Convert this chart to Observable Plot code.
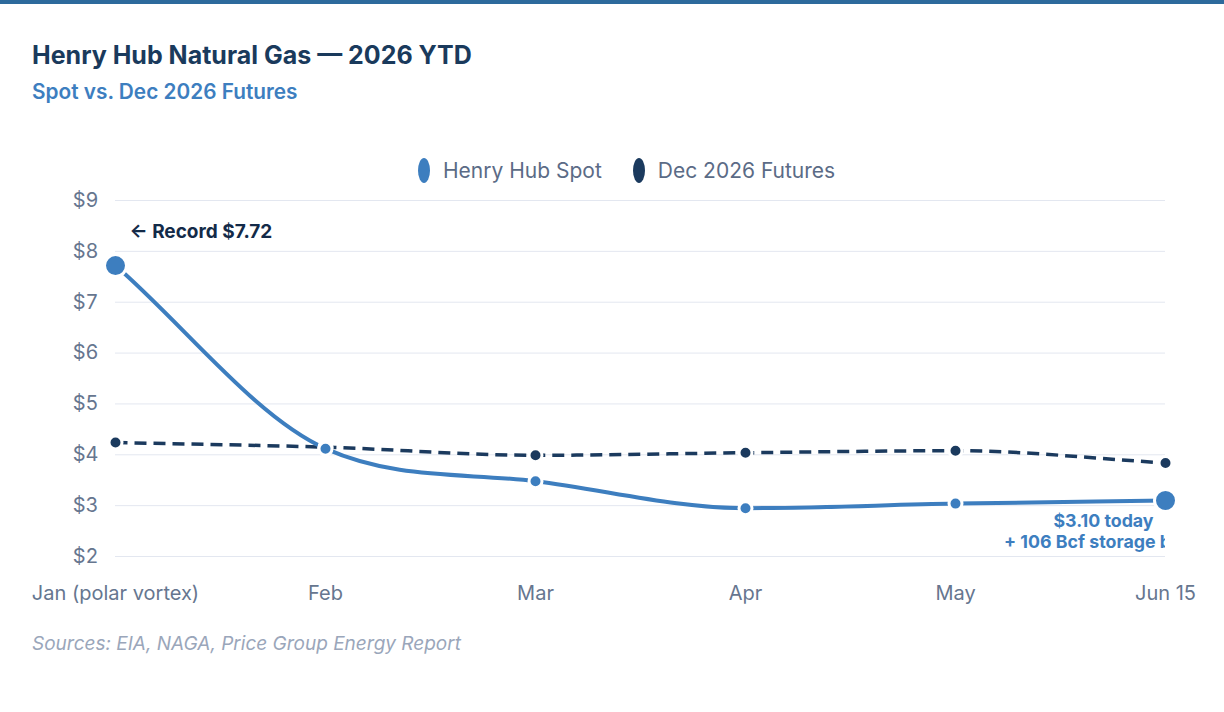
<!DOCTYPE html>
<html>
<head>
<meta charset="utf-8">
<script src="https://cdn.jsdelivr.net/npm/d3@7"></script>
<script src="https://cdn.jsdelivr.net/npm/@observablehq/plot@0.6"></script>
<style>
  html, body { margin: 0; padding: 0; background: #fff; }
  body { width: 1224px; height: 712px; position: relative; overflow: hidden; font-family: Inter, "Noto Sans", sans-serif; }
  .topbar { position: absolute; left: 0; top: 0; width: 1224px; height: 4px; background: #2d6a9c; }
  .title { position: absolute; left: 32px; top: 40px; font-size: 25px; line-height: 30px; font-weight: 700; color: #1a3a5c; }
  .subtitle { position: absolute; left: 32px; top: 79px; font-size: 20.8px; line-height: 25px; font-weight: 600; color: #3d7ebf; }
  .legend { position: absolute; top: 157px; left: 418px; height: 26px; display: flex; align-items: center; gap: 31px; font-size: 21px; color: #5b6b86; }
  .legend .item { display: flex; align-items: center; gap: 13px; }
  .legend .sw { width: 12px; height: 25px; border-radius: 50%; display: inline-block; }
  #chart { position: absolute; left: 0; top: 185px; }
  .caption { position: absolute; left: 32px; top: 632px; font-size: 19px; line-height: 23px; font-style: italic; color: #9aa6ba; }
</style>
</head>
<body>
<div class="topbar"></div>
<div class="title">Henry Hub Natural Gas — 2026 YTD</div>
<div class="subtitle">Spot vs. Dec 2026 Futures</div>
<div class="legend" id="legend"></div>
<div id="chart"></div>
<div class="caption">Sources: EIA, NAGA, Price Group Energy Report</div>
<script>
// Month labels along the x axis
const months = ["Jan (polar vortex)", "Feb", "Mar", "Apr", "May", "Jun 15"];
// Henry Hub spot price, $/MMBtu
const spot = [7.72, 4.12, 3.48, 2.95, 3.04, 3.10];
// Dec 2026 futures contract, $/MMBtu
const futures = [4.24, 4.15, 3.99, 4.04, 4.08, 3.84];
// Y axis ticks
const yTicks = [2, 3, 4, 5, 6, 7, 8, 9];

const seriesNames = ["Henry Hub Spot", "Dec 2026 Futures"];
const seriesColors = ["#3d7ebf", "#1b3a5e"];

const spotRows = months.map((m, i) => ({month: m, value: spot[i], big: i === 0 || i === months.length - 1}));
const futRows = months.map((m, i) => ({month: m, value: futures[i]}));

// Monotone cubic (Fritsch–Carlson): tangents are the mean of neighbouring
// slopes, zeroed at extrema and scaled down where they would overshoot.
function monotoneCubic(context) {
  let pts = [];
  return {
    areaStart() {}, areaEnd() {},
    lineStart() { pts = []; },
    point(x, y) { pts.push([+x, +y]); },
    lineEnd() {
      const n = pts.length;
      if (!n) return;
      const delta = [], m = new Array(n).fill(0);
      for (let i = 0; i < n - 1; ++i) {
        const dx = pts[i + 1][0] - pts[i][0];
        delta.push(dx ? (pts[i + 1][1] - pts[i][1]) / dx : 0);
      }
      for (let i = 0; i < n; ++i) {
        if (i === 0) m[i] = delta[0] ?? 0;
        else if (i === n - 1) m[i] = delta[n - 2];
        else m[i] = Math.sign(delta[i - 1]) !== Math.sign(delta[i]) ? 0 : (delta[i - 1] + delta[i]) / 2;
      }
      for (let i = 0; i < n - 1; ++i) {
        if (delta[i] === 0) { m[i] = m[i + 1] = 0; continue; }
        const a = m[i] / delta[i], b = m[i + 1] / delta[i];
        const s = a * a + b * b;
        if (s > 9) {
          const t = 3 / Math.sqrt(s);
          m[i] = a * t * delta[i];
          m[i + 1] = b * t * delta[i];
        }
      }
      context.moveTo(pts[0][0], pts[0][1]);
      for (let i = 0; i < n - 1; ++i) {
        const h = (pts[i + 1][0] - pts[i][0]) / 3;
        context.bezierCurveTo(
          pts[i][0] + h, pts[i][1] + h * m[i],
          pts[i + 1][0] - h, pts[i + 1][1] - h * m[i + 1],
          pts[i + 1][0], pts[i + 1][1]
        );
      }
    }
  };
}

// Legend
const legend = document.getElementById("legend");
seriesNames.forEach((name, i) => {
  const item = document.createElement("div");
  item.className = "item";
  item.innerHTML = `<span class="sw" style="background:${seriesColors[i]}"></span><span>${name}</span>`;
  legend.appendChild(item);
});

const first = spotRows[0];
const last = spotRows[spotRows.length - 1];

const chart = Plot.plot({
  width: 1224,
  height: 421,
  marginLeft: 115,
  marginRight: 59,
  marginTop: 15,
  marginBottom: 50,
  style: {fontFamily: "Inter, sans-serif", fontSize: "20px", color: "#64748b", background: "transparent"},
  x: {type: "point", domain: months, padding: 0, label: null},
  y: {domain: [2, 9], label: null},
  marks: [
    Plot.gridY(yTicks, {stroke: "#e3e7f0", strokeOpacity: 1, strokeWidth: 1}),
    Plot.axisY(yTicks, {tickSize: 0, tickPadding: 17, tickFormat: d => `$${d}`, fill: "#66768f", fontSize: 20, label: null}),
    Plot.axisX(months, {tickSize: 0, tickPadding: 29, fill: "#66768f", fontSize: 20, label: null}),
    // Futures: dashed line
    Plot.line(futRows, {x: "month", y: "value", stroke: seriesColors[1], strokeWidth: 3.5, strokeDasharray: "12,7", strokeLinecap: "butt", curve: monotoneCubic}),
    // Spot: solid line
    Plot.line(spotRows, {x: "month", y: "value", stroke: seriesColors[0], strokeWidth: 4, curve: monotoneCubic}),
    Plot.dot(futRows, {x: "month", y: "value", r: 6.5, fill: seriesColors[1], stroke: "#fff", strokeWidth: 3}),
    Plot.dot(spotRows.filter(d => !d.big), {x: "month", y: "value", r: 6.5, fill: seriesColors[0], stroke: "#fff", strokeWidth: 3}),
    Plot.dot(spotRows.filter(d => d.big), {x: "month", y: "value", r: 11, fill: seriesColors[0], stroke: "#fff", strokeWidth: 3}),
    // Annotations
    Plot.text([first], {x: "month", y: "value", text: d => `← Record $${d.value.toFixed(2)}`, textAnchor: "start", dx: 14, dy: -34, fontSize: 19, fontWeight: 700, fill: "#132a48"}),
    Plot.text([last], {x: "month", y: "value", text: d => `$${d.value.toFixed(2)} today\n+ 106 Bcf storage build`, textAnchor: "middle", lineAnchor: "top", dx: -62, dy: 12, lineHeight: 1.18, fontSize: 17.8, fontWeight: 700, fill: "#3d7ebf", clip: true})
  ]
});
document.getElementById("chart").appendChild(chart);
</script>
</body>
</html>
